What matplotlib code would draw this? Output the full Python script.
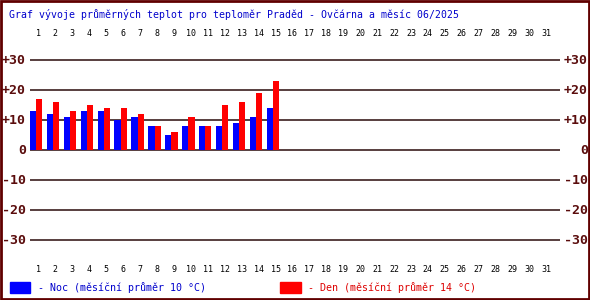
import matplotlib
matplotlib.use("Agg")
import matplotlib.pyplot as plt
from matplotlib.patches import Rectangle
import numpy as np

# data
days = list(range(1, 32))
noc = [13, 12, 11, 13, 13, 10, 11, 8, 5, 8, 8, 8, 9, 11, 14]
den = [17, 16, 13, 15, 14, 14, 12, 8, 6, 11, 8, 15, 16, 19, 23]
yticks = [30, 20, 10, 0, -10, -20, -30]
ylabels = ["+30", "+20", "+10", "0", "-10", "-20", "-30"]
title = "Graf vývoje průměrných teplot pro teploměr Praděd - Ovčárna a měsíc 06/2025"
noc_label = "- Noc (měsíční průměr 10 °C)"
den_label = "- Den (měsíční průměr 14 °C)"

W, H = 590, 300
step = 16.93  # px per day
dark = "#5a0c0c"
mono = "DejaVu Sans Mono"

fig = plt.figure(figsize=(W / 100, H / 100), dpi=100)
fig.patch.set_facecolor("white")

# axes: pixels 30..560 horizontally, 51..249 vertically (0 at y=150)
ax = fig.add_axes([30 / W, 1 - 249 / H, 530 / W, 198 / H])
ax.set_xlim((30 - 36) / step + 1, (560 - 36) / step + 1)
ax.set_ylim(-33, 33)
ax.axis("off")

for y in yticks:
    ax.axhline(y, color="#2a0a0a", lw=1.1, zorder=1)

bw = 6.2 / step
x = np.arange(1, len(noc) + 1)
ax.bar(x - bw / 2, noc, width=bw, color="#0000ff", zorder=2, linewidth=0)
ax.bar(x + bw / 2, den, width=bw, color="#ff0000", zorder=2, linewidth=0)

# y labels, left and right
for y, lab in zip(yticks, ylabels):
    py = 150 - y * 3
    fig.text(26 / W, 1 - py / H, lab, ha="right", va="center", fontsize=9.5,
             fontweight="bold", color=dark, family=mono)
    fig.text(588 / W, 1 - py / H, lab, ha="right", va="center", fontsize=9.5,
             fontweight="bold", color=dark, family=mono)

# day numbers top and bottom
for d in days:
    px = 36 + (d - 1) * step + 2.5
    for py in (34, 269):
        fig.text(px / W, 1 - py / H, str(d), ha="center", va="center",
                 fontsize=6, color="black", family=mono)

fig.text(9 / W, 1 - 14 / H, title, ha="left", va="center", fontsize=7.1,
         color="#0000cc", family=mono)

# legend
fig.patches.append(Rectangle((10 / W, 1 - 293 / H), 20 / W, 11 / H,
                             transform=fig.transFigure, color="#0000ff"))
fig.text(38 / W, 1 - 288 / H, noc_label, ha="left", va="center", fontsize=7.2,
         color="#0000cc", family=mono)
fig.patches.append(Rectangle((280 / W, 1 - 293 / H), 21 / W, 11 / H,
                             transform=fig.transFigure, color="#ff0000"))
fig.text(308 / W, 1 - 288 / H, den_label, ha="left", va="center", fontsize=7.2,
         color="#dd0000", family=mono)

# frame
fig.patches.append(Rectangle((0.001, 0.002), 0.997, 0.995, transform=fig.transFigure,
                             fill=False, edgecolor="#600000", lw=2))

fig.savefig("out.png", dpi=100, facecolor="white")
